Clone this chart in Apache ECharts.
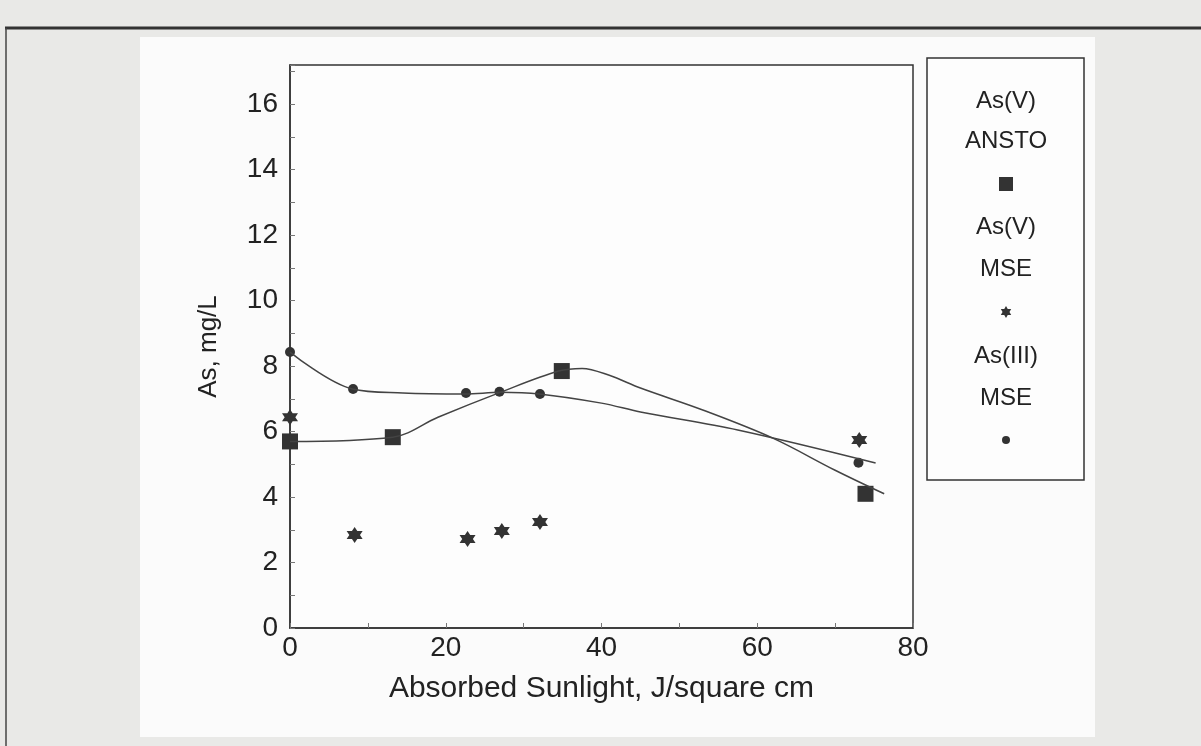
<!DOCTYPE html>
<html>
<head>
<meta charset="utf-8">
<script src="https://cdn.jsdelivr.net/npm/echarts@6/dist/echarts.min.js"></script>
<style>
  html, body { margin: 0; padding: 0; background: #e9e9e7; }
  #chart { width: 1201px; height: 746px; }
</style>
</head>
<body>
<div id="chart"></div>
<script>
const anstoV = [[0, 5.7], [13.2, 5.83], [34.9, 7.85], [73.9, 4.1]];
const mseV = [[0, 6.44], [8.3, 2.84], [22.8, 2.72], [27.2, 2.96], [32.1, 3.24], [73.1, 5.74]];
const mseIII = [[0, 8.43], [8.1, 7.3], [22.6, 7.18], [26.9, 7.22], [32.1, 7.15], [73, 5.05]];

// hand-drawn fit curves, also
const anstoFit = [[0, 5.7], [13.2, 5.83], [19, 6.44], [27, 7.2], [34.5, 7.85], [37.5, 7.93], [41, 7.72], [45, 7.33], [53, 6.66], [62, 5.8], [70, 4.82], [76.3, 4.1]];
const mseIIIFit = [[0, 8.43], [8, 7.3], [14.5, 7.18], [22.5, 7.15], [27, 7.2], [32, 7.15], [40, 6.87], [45, 6.6], [57.5, 6.05], [75.2, 5.04]];

const xTicks = [0, 20, 40, 60, 80];
const yTicks = [0, 2, 4, 6, 8, 10, 12, 14, 16];

const starPath = 'path://M0,-10L2.9,-5L8.66,-5L5.77,0L8.66,5L2.9,5L0,10L-2.9,5L-8.66,5L-5.77,0L-8.66,-5L-2.9,-5Z';
const ink = '#333';
const font = '"Liberation Sans", Arial, sans-serif';

const chart = echarts.init(document.getElementById('chart'));

// small legend star, same shape as the marker
const legendX = 1006;
const starPts = [[0,-10],[2.9,-5],[8.66,-5],[5.77,0],[8.66,5],[2.9,5],[0,10],[-2.9,5],[-8.66,5],[-5.77,0],[-8.66,-5],[-2.9,-5]]
    .map(p => [legendX + p[0] * 0.6, 312 + p[1] * 0.6]);

function legendText(text, y) {
    return { type: 'text', x: legendX, y: y, style: { text: text, font: '24px ' + font, fill: '#222', align: 'center', verticalAlign: 'middle' } };
}

chart.setOption({
    backgroundColor: '#e9e9e7',
    animation: false,
    textStyle: { fontFamily: font },
    grid: {
        left: 290, right: 288, top: 65, bottom: 118,
        show: true, borderColor: ink, borderWidth: 1.5, backgroundColor: '#fdfdfd'
    },
    graphic: [
        { type: 'rect', z: -10, shape: { x: 140, y: 37, width: 955, height: 700 }, style: { fill: '#fbfbfb' } },
        { type: 'line', z: -5, shape: { x1: 5, y1: 28, x2: 1201, y2: 28 }, style: { stroke: '#333', lineWidth: 3 } },
        { type: 'line', z: -5, shape: { x1: 6, y1: 28, x2: 6, y2: 746 }, style: { stroke: '#444', lineWidth: 1.5 } },
        { type: 'rect', shape: { x: 927, y: 58, width: 157, height: 422 }, style: { fill: '#fdfdfd', stroke: ink, lineWidth: 1.5 } },
        legendText('As(V)', 101),
        legendText('ANSTO', 141),
        { type: 'rect', shape: { x: legendX - 7, y: 177, width: 14, height: 14 }, style: { fill: ink } },
        legendText('As(V)', 227),
        legendText('MSE', 269),
        { type: 'polygon', shape: { points: starPts }, style: { fill: ink } },
        legendText('As(III)', 356),
        legendText('MSE', 398),
        { type: 'circle', shape: { cx: legendX, cy: 440, r: 4 }, style: { fill: ink } }
    ],
    xAxis: {
        type: 'value', min: 0, max: 80, interval: 10,
        name: 'Absorbed Sunlight, J/square cm', nameLocation: 'middle', nameGap: 46,
        nameTextStyle: { fontSize: 30, color: '#222' },
        axisLine: { lineStyle: { color: ink, width: 1.5 } },
        axisTick: { inside: true, length: 5, lineStyle: { color: '#777' } },
        axisLabel: {
            fontSize: 28, color: '#222', margin: 6,
            formatter: v => xTicks.includes(v) ? String(v) : ''
        },
        splitLine: { show: false }
    },
    yAxis: {
        type: 'value', min: 0, max: 17.2, interval: 1,
        name: 'As, mg/L', nameLocation: 'middle', nameGap: 68,
        nameTextStyle: { fontSize: 26, color: '#222' },
        axisLine: { lineStyle: { color: ink, width: 1.5 } },
        axisTick: { inside: true, length: 5, lineStyle: { color: '#777' } },
        axisLabel: {
            fontSize: 28, color: '#222', margin: 12,
            formatter: v => yTicks.includes(v) ? String(v) : ''
        },
        splitLine: { show: false }
    },
    series: [
        {
            name: 'ANSTO fit', type: 'line', data: anstoFit, smooth: 0.35, symbol: 'none',
            lineStyle: { color: '#444', width: 1.5 }
        },
        {
            name: 'As(III) MSE fit', type: 'line', data: mseIIIFit, smooth: 0.35, symbol: 'none',
            lineStyle: { color: '#444', width: 1.5 }
        },
        {
            name: 'As(V) ANSTO', type: 'scatter', data: anstoV, symbol: 'rect', symbolSize: 16,
            itemStyle: { color: ink, opacity: 1 }
        },
        {
            name: 'As(V) MSE', type: 'scatter', data: mseV, symbol: starPath, symbolSize: 16,
            itemStyle: { color: ink, opacity: 1 }
        },
        {
            name: 'As(III) MSE', type: 'scatter', data: mseIII, symbol: 'circle', symbolSize: 10,
            itemStyle: { color: ink, opacity: 1 }
        }
    ]
});
</script>
</body>
</html>
